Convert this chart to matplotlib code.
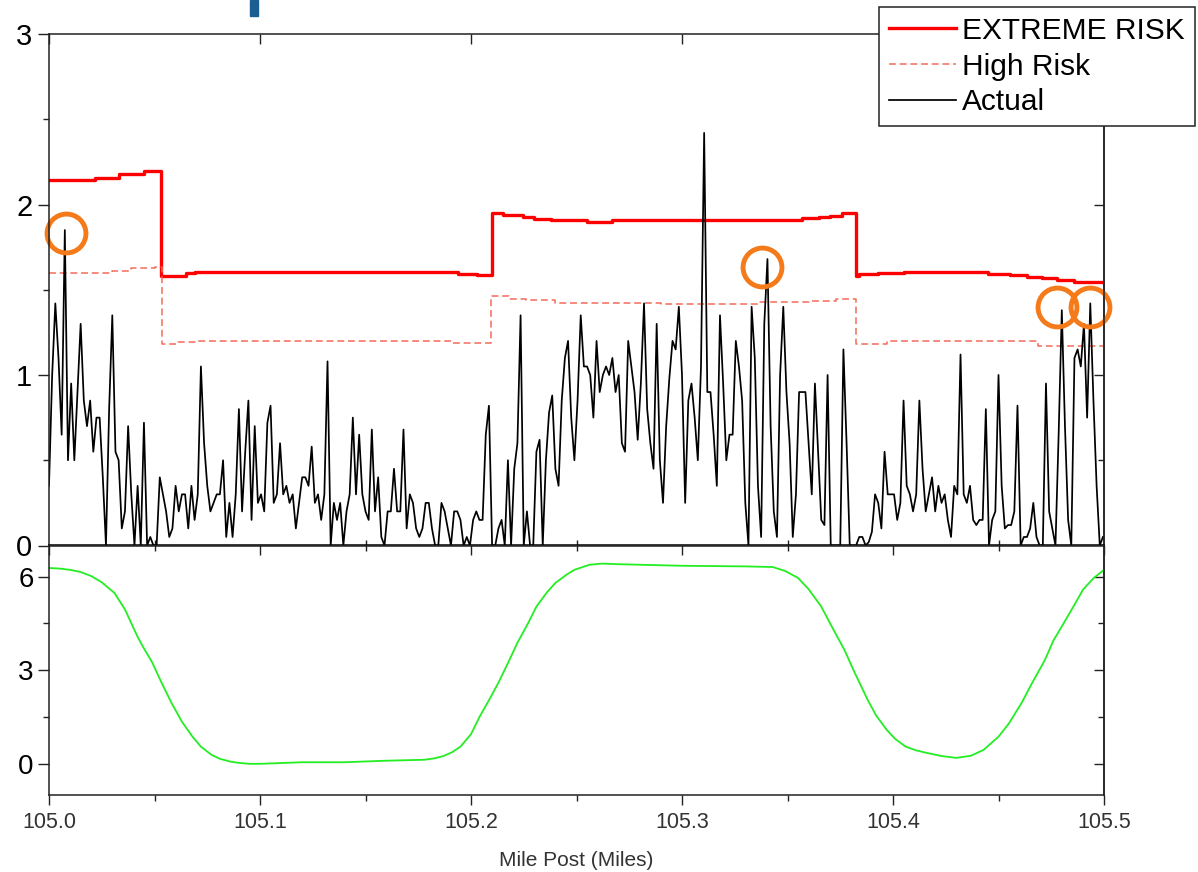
import matplotlib
matplotlib.use("Agg")
import matplotlib.pyplot as plt
import numpy as np
from matplotlib.ticker import MultipleLocator, FormatStrFormatter
from matplotlib.patches import Rectangle

plt.rcParams['font.family'] = ['Liberation Sans', 'DejaVu Sans']

# === Data ===
# Actual signal, sampled every 0.0015 mile from MP 105.000
mp_start = 105.0
mp_step = 0.0015
actual = [
    0.35, 1.0, 1.42, 1.1, 0.65, 1.85, 0.5, 0.95, 0.5, 0.9,
    1.3, 0.85, 0.7, 0.85, 0.55, 0.75, 0.75, 0.4, 0.0, 0.8,
    1.35, 0.55, 0.5, 0.1, 0.2, 0.7, 0.3, 0.0, 0.35, 0.0,
    0.72, 0.0, 0.05, 0.0, 0.0, 0.4, 0.3, 0.2, 0.05, 0.1,
    0.35, 0.2, 0.3, 0.3, 0.1, 0.35, 0.15, 0.3, 1.05,
    0.6, 0.35, 0.2, 0.25, 0.3, 0.3, 0.5, 0.05, 0.25, 0.05,
    0.3, 0.8, 0.2, 0.55, 0.85, 0.15, 0.7, 0.25, 0.3, 0.2,
    0.72, 0.82, 0.25, 0.3, 0.6, 0.3, 0.35, 0.25, 0.3, 0.1,
    0.25, 0.4, 0.4, 0.35, 0.58, 0.25, 0.3, 0.15, 0.3, 1.08,
    0.0, 0.25, 0.15, 0.25, 0.0, 0.2, 0.3, 0.75, 0.3, 0.65,
    0.3, 0.2, 0.15, 0.68, 0.2, 0.4, 0.05, 0.0, 0.2, 0.2,
    0.45, 0.2, 0.2, 0.68, 0.1, 0.3, 0.25, 0.1, 0.05, 0.1,
    0.25, 0.25, 0.1, 0.0, 0.0, 0.25, 0.2, 0.1, 0.0, 0.2,
    0.2, 0.15, 0.0, 0.05, 0.0, 0.15, 0.2, 0.15, 0.15, 0.65,
    0.82, 0.0, 0.0, 0.1, 0.15, 0.0, 0.5, 0.0, 0.45,
    0.6, 1.35, 0.0, 0.2, 0.0, 0.0, 0.55, 0.62, 0.0, 0.5,
    0.78, 0.88, 0.45, 0.35, 0.85, 1.1, 1.2, 0.75, 0.5, 0.85,
    1.35, 1.05, 1.05, 1.0, 0.75, 1.2, 0.9, 1.0, 1.05, 1.0,
    1.1, 0.9, 1.0, 0.6, 0.55, 1.2, 1.05, 0.9, 0.62, 0.95,
    1.42, 0.8, 0.6, 0.45, 1.3, 0.5, 0.25, 0.7, 0.98,
    1.2, 1.15, 1.4, 1.0, 0.25, 0.85, 0.95, 0.75, 0.5, 1.05,
    2.42, 0.9, 0.9, 0.65, 0.35, 1.35, 0.95, 0.5, 0.65, 0.65,
    1.2, 1.05, 0.85, 0.25, 0.0, 1.4, 1.1, 0.35, 0.05, 1.3,
    1.68, 0.7, 0.2, 0.05, 1.0, 1.4, 0.9, 0.6, 0.05, 0.3,
    0.9, 0.9, 0.9, 0.6, 0.3, 0.95, 0.55, 0.15, 0.12,
    1.0, 0.0, 0.0, 0.0, 0.0, 1.15, 0.6, 0.0, 0.0, 0.0,
    0.05, 0.05, 0.0, 0.02, 0.08, 0.3, 0.25, 0.1, 0.55, 0.3,
    0.3, 0.3, 0.15, 0.25, 0.85, 0.35, 0.3, 0.2, 0.3, 0.85,
    0.45, 0.2, 0.3, 0.4, 0.2, 0.35, 0.25, 0.3, 0.15, 0.05,
    0.35, 0.3, 1.12, 0.3, 0.25, 0.35, 0.15, 0.12, 0.15,
    0.15, 0.8, 0.0, 0.15, 0.2, 1.0, 0.35, 0.1, 0.12, 0.12,
    0.2, 0.82, 0.0, 0.05, 0.05, 0.1, 0.25, 0.05, 0.0, 0.0,
    0.95, 0.2, 0.1, 0.0, 0.65, 1.38, 0.7, 0.15, 0.0, 1.1,
    1.15, 1.05, 1.3, 0.75, 1.42, 0.85, 0.35, 0.0, 0.05,
]

# EXTREME RISK threshold (step line: value holds from each mile post to the next)
extreme_mp = [105.000, 105.022, 105.033, 105.045, 105.0531, 105.065, 105.069,
              105.194, 105.203, 105.2101, 105.215, 105.2246, 105.230, 105.238,
              105.255, 105.267, 105.357, 105.365, 105.370, 105.376, 105.3825,
              105.384, 105.393, 105.405, 105.445, 105.4555, 105.4635, 105.4706,
              105.4777, 105.486, 105.500]
extreme_val = [2.143, 2.157, 2.178, 2.194, 1.581, 1.600, 1.605,
               1.595, 1.585, 1.948, 1.937, 1.924, 1.914, 1.908,
               1.898, 1.908, 1.918, 1.924, 1.932, 1.948, 1.581,
               1.590, 1.600, 1.605, 1.595, 1.585, 1.575, 1.566,
               1.556, 1.546, 1.546]

# High Risk threshold
high_mp = [105.000, 105.030, 105.039, 105.050, 105.0534, 105.061, 105.070,
           105.191, 105.2095, 105.218, 105.226, 105.240, 105.290, 105.336,
           105.360, 105.373, 105.3825, 105.397, 105.4687, 105.500]
high_val = [1.599, 1.611, 1.630, 1.635, 1.184, 1.194, 1.200,
            1.190, 1.464, 1.448, 1.438, 1.425, 1.419, 1.428,
            1.434, 1.448, 1.184, 1.200, 1.170, 1.170]

# lower panel (green)
green_mp = [105.000, 105.005, 105.010, 105.015, 105.020, 105.025, 105.031,
            105.036, 105.042, 105.045, 105.049, 105.053, 105.058, 105.063,
            105.068, 105.072, 105.077, 105.081, 105.086, 105.090, 105.095,
            105.100, 105.120, 105.140, 105.160, 105.178, 105.183, 105.187,
            105.191, 105.195, 105.200, 105.204, 105.209, 105.213, 105.218,
            105.222, 105.227, 105.231, 105.236, 105.240, 105.245, 105.249,
            105.256, 105.262, 105.270, 105.300, 105.330, 105.343, 105.349,
            105.355, 105.360, 105.366, 105.371, 105.377, 105.382, 105.388,
            105.392, 105.397, 105.401, 105.406, 105.411, 105.416, 105.423,
            105.430, 105.437, 105.443, 105.450, 105.455, 105.461, 105.466,
            105.472, 105.476, 105.481, 105.486, 105.490, 105.495, 105.500]
green_val = [6.28, 6.26, 6.22, 6.15, 6.02, 5.82, 5.48,
             4.95, 4.07, 3.70, 3.24, 2.65, 1.96, 1.35,
             0.87, 0.55, 0.29, 0.16, 0.07, 0.03, 0.00,
             0.00, 0.05, 0.05, 0.10, 0.13, 0.18, 0.25,
             0.37, 0.55, 0.95, 1.50, 2.10, 2.60, 3.30,
             3.88, 4.50, 5.04, 5.50, 5.80, 6.05, 6.22,
             6.38, 6.42, 6.40, 6.35, 6.33, 6.31, 6.18,
             5.96, 5.60, 5.04, 4.40, 3.65, 2.90, 2.05,
             1.55, 1.09, 0.80, 0.55, 0.43, 0.35, 0.25,
             0.19, 0.26, 0.45, 0.87, 1.30, 1.96, 2.60,
             3.33, 3.95, 4.52, 5.10, 5.58, 5.95, 6.22]

# orange highlight circles
circle_mp = [105.0079, 105.3378, 105.4776, 105.4934]
circle_val = [1.83, 1.634, 1.396, 1.396]

legend_labels = ["EXTREME RISK", "High Risk", "Actual"]

# === Figure ===
fig = plt.figure(figsize=(11.98, 8.72), dpi=100)
fig.patch.set_facecolor("white")

L, W = 49 / 1198, (1104 - 49) / 1198
ax1 = fig.add_axes([L, 1 - 545.5 / 872, W, (545.5 - 34) / 872])
ax2 = fig.add_axes([L, 1 - 795 / 872, W, (795 - 545.5) / 872])

actual_mp = mp_start + mp_step * np.arange(len(actual))

l_ext, = ax1.plot(extreme_mp, extreme_val, drawstyle="steps-post", color="#ff0000", lw=2.4)
l_high, = ax1.plot(high_mp, high_val, drawstyle="steps-post", color="#f26b5b", lw=1.1,
                   linestyle=(0, (4.5, 2.5)))
l_act, = ax1.plot(actual_mp, actual, color="black", lw=1.25)
ax1.plot(circle_mp, circle_val, "o", ms=28, mfc="none", mec="#f47a1a", mew=3.5, clip_on=False)

ax2.plot(green_mp, green_val, color="#22ee22", lw=1.3)

spine_c = "#222222"
for ax in (ax1, ax2):
    ax.set_xlim(105.0, 105.5)
    ax.xaxis.set_major_locator(MultipleLocator(0.1))
    ax.xaxis.set_minor_locator(MultipleLocator(0.05))
    for s in ax.spines.values():
        s.set_color(spine_c)
        s.set_linewidth(1.1)

ax1.set_ylim(0, 3)
ax1.yaxis.set_major_locator(MultipleLocator(1))
ax1.yaxis.set_minor_locator(MultipleLocator(0.5))
ax1.tick_params(axis="x", which="major", top=True, bottom=False, direction="in",
                length=7, width=1.0, color=spine_c, labelbottom=False)
ax1.tick_params(axis="x", which="minor", top=False, bottom=True, direction="in",
                length=4, width=1.0, color=spine_c)
ax1.tick_params(axis="y", which="major", left=True, right=False, direction="out",
                length=8, width=1.0, color=spine_c, labelsize=21, pad=4)
ax1.tick_params(axis="y", which="minor", left=True, right=False, direction="out",
                length=4.5, width=1.0, color=spine_c)

ax2.set_ylim(-1, 7)
ax2.yaxis.set_major_locator(MultipleLocator(3))
ax2.yaxis.set_minor_locator(MultipleLocator(1.5))
ax2.xaxis.set_major_formatter(FormatStrFormatter("%.1f"))
ax2.tick_params(axis="x", which="major", top=False, bottom=True, direction="out",
                length=7, width=1.0, color=spine_c, labelsize=15.5, labelcolor="#333333", pad=5)
ax2.tick_params(axis="x", which="minor", top=False, bottom=True, direction="out",
                length=4, width=1.0, color=spine_c)
ax2.tick_params(axis="y", which="major", left=True, right=False, direction="out",
                length=8, width=1.0, color=spine_c, labelsize=20, pad=3)
ax2.tick_params(axis="y", which="minor", left=True, right=False, direction="out",
                length=4.5, width=1.0, color=spine_c)
ax2.set_xlabel("Mile Post (Miles)", fontsize=15, color="#333333", labelpad=13)

# inward ticks on the opposite spines
for ax, yloc, ymin in ((ax1, 1, 0.5), (ax2, 3, 1.5)):
    sec = ax.secondary_yaxis("right")
    sec.yaxis.set_major_locator(MultipleLocator(yloc))
    sec.yaxis.set_minor_locator(MultipleLocator(ymin))
    sec.tick_params(which="major", direction="in", length=7, width=1.0, color=spine_c, labelright=False)
    sec.tick_params(which="minor", direction="in", length=4.5, width=1.0, color=spine_c)
    sec.spines["right"].set_linewidth(1.1)
    sec.spines["right"].set_color(spine_c)

sec_x = ax2.secondary_xaxis("top")
sec_x.xaxis.set_major_locator(MultipleLocator(0.1))
sec_x.xaxis.set_minor_locator(MultipleLocator(0.05))
sec_x.tick_params(which="major", direction="in", length=7, width=1.0, color=spine_c, labeltop=False)
sec_x.tick_params(which="minor", direction="in", length=4, width=1.0, color=spine_c)
sec_x.spines["top"].set_linewidth(1.1)

leg = fig.legend([l_ext, l_high, l_act], legend_labels, loc="upper right",
                 bbox_to_anchor=(1195 / 1198, 1 - 7 / 872), bbox_transform=fig.transFigure,
                 fontsize=21.5, frameon=True, fancybox=False, framealpha=1.0,
                 edgecolor="#222222", handlelength=2.25, handletextpad=0.2,
                 borderpad=0.33, labelspacing=0.26, borderaxespad=0)
leg.get_frame().set_linewidth(1.1)

# fragment of slide title cut off at the top edge
fig.add_artist(Rectangle((250 / 1198, 1 - 16 / 872), 8 / 1198, 16 / 872,
                         transform=fig.transFigure, color="#1b5e91"))

fig.savefig("out.png", dpi=100, facecolor="white")
